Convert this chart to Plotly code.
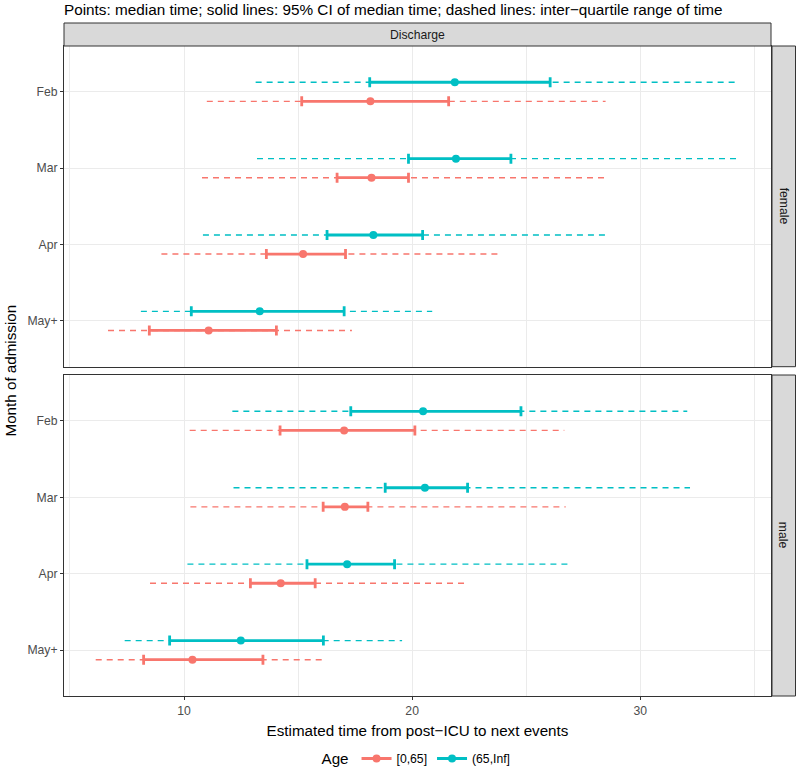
import plotly.graph_objects as go
from plotly.subplots import make_subplots

months = ["Feb", "Mar", "Apr", "May+"]
sexes = ["female", "male"]
age_groups = ["[0,65]", "(65,Inf]"]
colors = {"[0,65]": "#F8766D", "(65,Inf]": "#00BFC4"}

# female, age [0,65]
f_young_median = [18.17, 18.22, 15.22, 11.08]
f_young_ci_lo = [15.16, 16.71, 13.61, 8.48]
f_young_ci_hi = [21.60, 19.84, 17.08, 14.05]
f_young_q1 = [11.00, 10.79, 9.01, 6.67]
f_young_q3 = [28.48, 28.53, 23.82, 17.36]
# female, age (65,Inf]
f_old_median = [21.87, 21.92, 18.30, 13.32]
f_old_ci_lo = [18.14, 19.84, 16.27, 10.32]
f_old_ci_hi = [26.05, 24.33, 20.46, 17.02]
f_old_q1 = [13.14, 13.20, 10.83, 8.11]
f_old_q3 = [34.30, 34.33, 28.67, 20.88]
# male, age [0,65]
m_young_median = [17.02, 17.05, 14.24, 10.37]
m_young_ci_lo = [14.21, 16.10, 12.91, 8.23]
m_young_ci_hi = [20.12, 18.06, 15.75, 13.46]
m_young_q1 = [10.25, 10.28, 8.51, 6.13]
m_young_q3 = [26.67, 26.73, 22.34, 16.25]
# male, age (65,Inf]
m_old_median = [20.48, 20.56, 17.15, 12.49]
m_old_ci_lo = [17.31, 18.82, 15.39, 9.37]
m_old_ci_hi = [24.77, 22.43, 19.23, 16.11]
m_old_q1 = [12.12, 12.17, 10.15, 7.40]
m_old_q3 = [32.06, 32.18, 26.89, 19.56]

data = {
    ("female", "[0,65]"): (f_young_median, f_young_ci_lo, f_young_ci_hi, f_young_q1, f_young_q3),
    ("female", "(65,Inf]"): (f_old_median, f_old_ci_lo, f_old_ci_hi, f_old_q1, f_old_q3),
    ("male", "[0,65]"): (m_young_median, m_young_ci_lo, m_young_ci_hi, m_young_q1, m_young_q3),
    ("male", "(65,Inf]"): (m_old_median, m_old_ci_lo, m_old_ci_hi, m_old_q1, m_old_q3),
}

FONT = "Liberation Sans, Arial, Helvetica, sans-serif"
W, H = 796, 769
# panel area in window pixels: x 64..771, y 46..696
ML, MR, MT, MB = 64, W - 771, 46, H - 696
PW, PH = W - ML - MR, H - MT - MB

fig = make_subplots(rows=2, cols=1, shared_xaxes=True, vertical_spacing=8 / PH)

dodge = {"[0,65]": -0.125, "(65,Inf]": 0.125}
base_pos = {m: len(months) - i for i, m in enumerate(months)}

for r, sex in enumerate(sexes, start=1):
    for ag in age_groups:
        med, lo, hi, q1, q3 = data[(sex, ag)]
        ys = [base_pos[m] + dodge[ag] for m in months]
        dx, dy = [], []
        for a, b, y in zip(q1, q3, ys):
            dx += [a, b, None]
            dy += [y, y, None]
        fig.add_trace(go.Scatter(x=dx, y=dy, mode="lines",
                                 line=dict(color=colors[ag], width=1.4, dash="6px,5px"),
                                 showlegend=False, hoverinfo="skip"), row=r, col=1)
        fig.add_trace(go.Scatter(
            x=med, y=ys, mode="markers",
            marker=dict(color=colors[ag], size=8),
            error_x=dict(type="data", symmetric=False,
                         array=[h - m for h, m in zip(hi, med)],
                         arrayminus=[m - l for m, l in zip(med, lo)],
                         color=colors[ag], thickness=2.8, width=5),
            showlegend=False), row=r, col=1)

for ag in age_groups:
    fig.add_trace(go.Scatter(x=[None], y=[None], mode="lines+markers", name=ag,
                             line=dict(color=colors[ag], width=3),
                             marker=dict(color=colors[ag], size=8)), row=2, col=1)

grid = "#EBEBEB"
border = "#333333"
TICKF = dict(size=12.2, color="#4D4D4D", family=FONT)
for r in (1, 2):
    fig.update_xaxes(range=[4.74, 35.73], tick0=0, dtick=10, showgrid=True,
                     gridcolor=grid, gridwidth=1,
                     minor=dict(dtick=5, tick0=0, showgrid=True, gridcolor=grid, gridwidth=0.6, ticks=""),
                     showline=True, mirror=True, linecolor=border, linewidth=1,
                     zeroline=False, row=r, col=1)
    fig.update_yaxes(range=[0.4, 4.6], tickmode="array",
                     tickvals=[base_pos[m] for m in months], ticktext=months,
                     showgrid=True, gridcolor=grid, gridwidth=1,
                     showline=True, mirror=True, linecolor=border, linewidth=1,
                     zeroline=False, ticks="outside", ticklen=3, tickcolor=border,
                     tickfont=TICKF, row=r, col=1)

fig.update_xaxes(showticklabels=False, ticks="", row=1, col=1)
fig.update_xaxes(ticks="outside", ticklen=3, tickcolor=border, tickfont=TICKF,
                 title=dict(text="Estimated time from post\u2212ICU to next events",
                            font=dict(size=15.2, color="black", family=FONT), standoff=8),
                 row=2, col=1)


def px_x(p):
    return (p - ML) / PW


def px_y(p):
    return (MT + PH - p) / PH


fig.update_layout(yaxis=dict(domain=[px_y(366.7), 1.0]),
                  yaxis2=dict(domain=[0.0, px_y(375)]))

shapes = []
annotations = []
strip_fill = "#D9D9D9"
STRIPF = dict(size=12.2, color="#1A1A1A", family=FONT)
# top strip
shapes.append(dict(type="rect", xref="paper", yref="paper", x0=0, x1=1,
                   y0=px_y(46), y1=px_y(23), fillcolor=strip_fill,
                   line=dict(color=border, width=1)))
annotations.append(dict(text="Discharge", xref="paper", yref="paper", x=0.5, y=px_y(34.5),
                        showarrow=False, xanchor="center", yanchor="middle", font=STRIPF))
# right strips
for sex, (top, bot) in zip(sexes, [(46, 366.7), (375, 696)]):
    shapes.append(dict(type="rect", xref="paper", yref="paper", x0=px_x(772), x1=px_x(795.5),
                       y0=px_y(bot), y1=px_y(top), fillcolor=strip_fill,
                       line=dict(color=border, width=1)))
    annotations.append(dict(text=sex, xref="paper", yref="paper", x=px_x(783.7),
                            y=px_y((top + bot) / 2), showarrow=False, textangle=90,
                            xanchor="center", yanchor="middle", font=STRIPF))
# y axis title
annotations.append(dict(text="Month of admission", xref="paper", yref="paper",
                        x=px_x(10), y=px_y(370.5), showarrow=False, textangle=-90,
                        xanchor="center", yanchor="middle",
                        font=dict(size=15.2, color="black", family=FONT)))
# title
annotations.append(dict(text="Points: median time; solid lines: 95% CI of median time; dashed lines: inter\u2212quartile range of time",
                        xref="paper", yref="paper", x=px_x(62), y=px_y(9), showarrow=False,
                        xanchor="left", yanchor="middle",
                        font=dict(size=15.3, color="black", family=FONT)))

fig.update_layout(
    width=W, height=H,
    margin=dict(l=ML, r=MR, t=MT, b=MB, autoexpand=False),
    paper_bgcolor="white", plot_bgcolor="white",
    shapes=shapes, annotations=annotations,
    showlegend=True,
    legend=dict(orientation="h", x=0.5, xanchor="center", y=px_y(759), yanchor="middle",
                title=dict(text="Age", font=dict(size=15.2, color="black", family=FONT)),
                font=dict(size=12.2, color="black", family=FONT), itemwidth=30),
    font=dict(family=FONT),
)

fig.write_html("out.html", config={"displayModeBar": False},
               post_script="document.body.style.margin='0';document.body.style.overflow='hidden';")
